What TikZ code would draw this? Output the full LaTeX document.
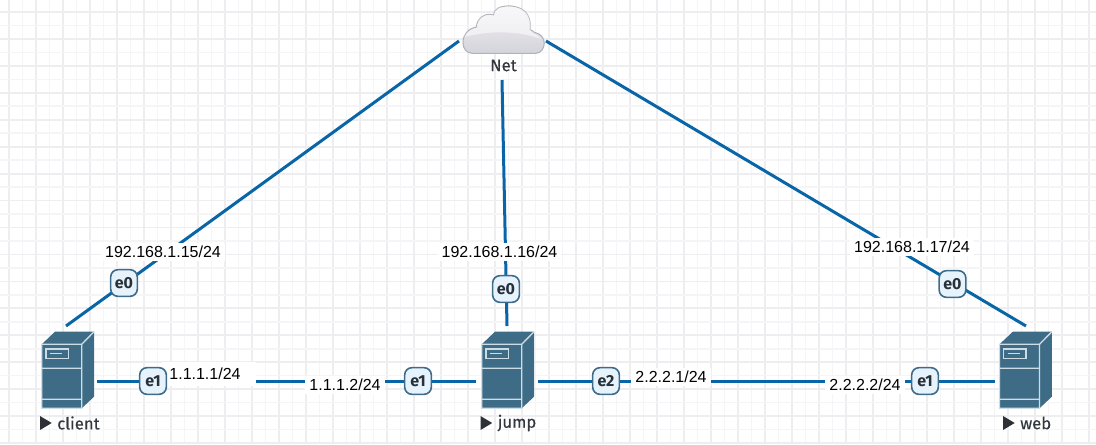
\documentclass[tikz,border=0pt]{standalone}
\usepackage{fontspec}
\setmainfont{Liberation Sans}
\newfontfamily\hostfont[FakeBold=0.25]{Fira Sans}
\newfontfamily\portfont{Fira Sans}
\tikzset{
  gridmajor/.style={color={rgb, 255:red, 238; green, 238; blue, 240 },line width=1.3pt},
  gridminor/.style={color={rgb, 255:red, 245; green, 245; blue, 247 },line width=1.2pt},
  link/.style={color={rgb, 255:red, 8; green, 102; blue, 168 },line width=2.25pt},
  port/.style={draw={rgb, 255:red, 62; green, 107; blue, 137 },line width=1.2pt,fill={rgb, 255:red, 230; green, 243; blue, 253 },rounded corners=5.5pt,minimum width=20pt,minimum height=20pt,inner sep=0pt,font=\portfont\bfseries\fontsize{12}{14}\selectfont,text={rgb, 255:red, 40; green, 48; blue, 56 }},
  iplabel/.style={fill=white,inner xsep=3pt,inner ysep=2.5pt,font=\fontsize{12}{14}\selectfont,text=black},
  hostname/.style={inner sep=0pt,anchor=west,font=\hostfont\fontsize{12.5}{14}\selectfont,text={rgb, 255:red, 50; green, 56; blue, 62 }},
  server/.pic={
    \fill [color={rgb, 255:red, 62; green, 108; blue, 135 }] (0,0) -- (13.3,-12.6) -- (52.3,-12.6) -- (52.3,52.4) -- (40,64) -- (0,64) -- cycle ;
    \draw [color={rgb, 255:red, 205; green, 221; blue, 230 },line width=1pt] (0,0) rectangle (40,64) (0,24) -- (40,24) (0,55) -- (40,55) (40,0) -- (52.3,-12.6) ;
    \draw [color={rgb, 255:red, 205; green, 221; blue, 230 },line width=1pt] (4.3,4.7) rectangle (26.6,14) (8,9.4) -- (20,9.4) ;
  },
}
\begin{document}
\begin{tikzpicture}[x=0.75pt,y=0.75pt,yscale=-1,xscale=1]
\useasboundingbox (0,0) rectangle (1096,444);

%Grid
\foreach \i in {0,...,81} {
  \pgfmathsetmacro{\gx}{9+13.5*\i}
  \ifodd\i \draw [gridminor] (\gx,0) -- (\gx,444) ; \else \draw [gridmajor] (\gx,0) -- (\gx,444) ; \fi
}
\foreach \i in {0,...,32} {
  \pgfmathsetmacro{\gy}{12+13.47*\i}
  \ifodd\i \draw [gridminor] (0,\gy) -- (1096,\gy) ; \else \draw [gridmajor] (0,\gy) -- (1096,\gy) ; \fi
}

%Free ends of the links
\coordinate (netW) at (459,41) ;
\coordinate (netS) at (502,80) ;
\coordinate (netE) at (546,41) ;
\coordinate (clientN) at (66,326) ;
\coordinate (clientE) at (97,381) ;
\coordinate (jumpN) at (507,326) ;
\coordinate (jumpW) at (476,381) ;
\coordinate (jumpE) at (538,381) ;
\coordinate (webN) at (1026,326) ;
\coordinate (webW) at (995,381) ;

%Links
\draw [link] (clientN) -- (netW) ;
\draw [link] (jumpN) -- (netS) ;
\draw [link] (webN) -- (netE) ;
\draw [link] (clientE) -- (jumpW) ;
\draw [link] (jumpE) -- (webW) ;

%Shape: Cloud
\draw [draw={rgb, 255:red, 178; green, 178; blue, 186 },line width=0.8pt,top color={rgb, 255:red, 240; green, 240; blue, 243 },bottom color={rgb, 255:red, 212; green, 212; blue, 219 }] (472,53.3) -- (536,53.3) .. controls (541,53.3) and (544.3,48) .. (544.3,43) .. controls (544.3,38) and (540,33) .. (534.5,32.5) .. controls (533,31) and (531,30) .. (530,29.5) .. controls (531,20) and (529,8) .. (511,6) .. controls (500,5.5) and (494,9) .. (493.5,15) .. controls (485,12) and (476.5,19) .. (476.5,27) .. controls (468,28.5) and (462.7,35) .. (463,43) .. controls (463,48.5) and (466.5,53) .. (472,53.3) -- cycle ;
%Curve Lines: Cloud highlight
\fill [color=white,fill opacity=0.55] (464.5,37) .. controls (490,30) and (520,31) .. (541,39) .. controls (535,33) and (531,32) .. (530,29.5) .. controls (531,20) and (529,8) .. (511,6.5) .. controls (500,6) and (494,9) .. (493.5,15.5) .. controls (485,12.5) and (476.5,19) .. (477,27.5) .. controls (470,29) and (466,33) .. (464.5,37) -- cycle ;

%Servers
\pic [yscale=-1] at (41.7,344.3) {server};
\pic [yscale=-1] at (481.7,344.3) {server};
\pic [yscale=-1] at (999.5,344.3) {server};

% Text Node
\draw (503.5,65.5) node (netname) [hostname,anchor=center] {Net};
\draw (57,423) node (clientname) [hostname] {client};
\draw (497.5,423) node (jumpname) [hostname] {jump};
\draw (1020,423) node (webname) [hostname] {web};

%Run markers beside the names
\foreach \n in {clientname,jumpname,webname}
  \fill [color={rgb, 255:red, 45; green, 48; blue, 52 }] ([shift={(-17,-7)}]\n.west) -- ([shift={(-5.3,0)}]\n.west) -- ([shift={(-17,7)}]\n.west) -- cycle ;

% Text Node
\draw (163,252) node (ipclientnet) [iplabel] {192.168.1.15/24};
\draw (499.5,252) node (ipjumpnet) [iplabel] {192.168.1.16/24};
\draw (912,247) node (ipwebnet) [iplabel] {192.168.1.17/24};
\draw (209,373.5) node (ipclient) [iplabel,minimum width=70.5pt,minimum height=18pt] {1.1.1.1/24\kern6pt};
\draw (345,385) node (ipjumpw) [iplabel] {1.1.1.2/24};
\draw (671,377) node (ipjumpe) [iplabel] {2.2.2.1/24};
\draw (865,385) node (ipweb) [iplabel] {2.2.2.2/24};

%Ports
\draw (124,283) node (clienteth) [port] {e0};
\draw (153,381) node (clienteone) [port] {e1};
\draw (506,289) node (jumpeth) [port] {e0};
\draw (418,381) node (jumpeone) [port] {e1};
\draw (606,381) node (jumpetwo) [port] {e2};
\draw (952.5,284) node (webeth) [port] {e0};
\draw (925,381) node (webeone) [port] {e1};

\end{tikzpicture}
\end{document}
